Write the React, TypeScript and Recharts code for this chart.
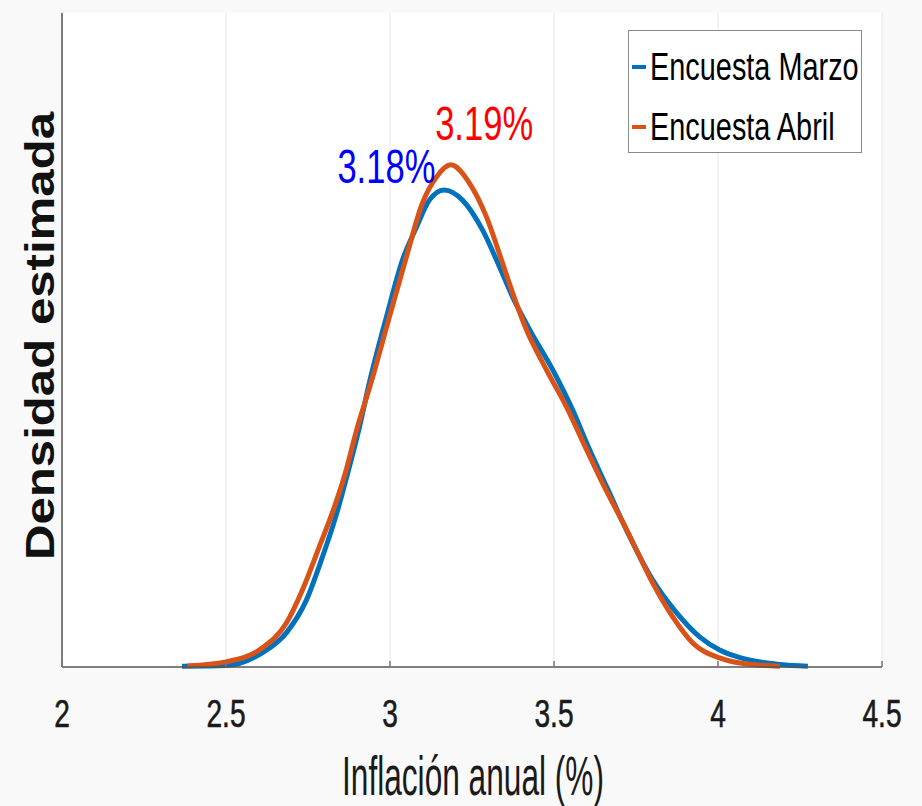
import React from "react";
import { LineChart, Line, XAxis, YAxis, CartesianGrid, ReferenceDot, Label } from "recharts";

// densidad estimada, encuesta de marzo
const inflacionMarzo = [
  2.366, 2.5, 2.61, 2.684, 2.745, 2.794, 2.836, 2.867, 2.907, 2.937, 2.989, 3.038, 3.081,
  3.12, 3.165, 3.221, 3.282, 3.334, 3.374, 3.426, 3.496, 3.557, 3.609, 3.661, 3.731,
  3.801, 3.874, 3.944, 4.005, 4.067, 4.12, 4.19, 4.274,
];
const densidadMarzo = [
  0.002, 0.004, 0.039, 0.094, 0.184, 0.303, 0.418, 0.52, 0.661, 0.782, 0.963, 1.12, 1.211,
  1.285, 1.313, 1.285, 1.203, 1.101, 1.018, 0.928, 0.818, 0.707, 0.597, 0.495, 0.358,
  0.239, 0.149, 0.083, 0.047, 0.026, 0.015, 0.007, 0.002,
];

// densidad estimada, encuesta de abril
const inflacionAbril = [
  2.382, 2.5, 2.61, 2.684, 2.733, 2.784, 2.824, 2.861, 2.897, 2.943, 2.998, 3.05, 3.099,
  3.142, 3.185, 3.242, 3.294, 3.343, 3.374, 3.416, 3.477, 3.538, 3.6, 3.648, 3.722,
  3.801, 3.862, 3.923, 4.005, 4.067, 4.189,
];
const densidadAbril = [
  0.003, 0.014, 0.052, 0.121, 0.212, 0.33, 0.424, 0.525, 0.648, 0.785, 0.963, 1.129, 1.277,
  1.349, 1.382, 1.332, 1.239, 1.112, 1.029, 0.928, 0.818, 0.716, 0.597, 0.506, 0.377,
  0.231, 0.138, 0.066, 0.025, 0.011, 0.002,
];

const ticksX = [2, 2.5, 3, 3.5, 4, 4.5];

const marzo = inflacionMarzo.map((x, i) => ({ x, y: densidadMarzo[i] }));
const abril = inflacionAbril.map((x, i) => ({ x, y: densidadAbril[i] }));

const AZUL = "#0072BD";
const NARANJA = "#D95319";
const SANS = "'Liberation Sans', Arial, Helvetica, sans-serif";

const XTick = (props: any) => {
  const { x, y, payload } = props;
  return (
    <g>
      <line x1={x} x2={x} y1={y} y2={y - 6} stroke="#777" strokeWidth={1.5} />
      <text
        transform={`translate(${x},${y + 60}) scale(0.74,1)`}
        textAnchor="middle"
        fontFamily={SANS}
        fontSize={38}
        fill="#1a1a1a"
        stroke="#1a1a1a"
        strokeWidth={0.6}
      >
        {payload.value}
      </text>
    </g>
  );
};

// etiqueta de la moda, anclada en un punto de datos
const modeLabel = (text: string, color: string) => (p: any) => {
  const vb = p.viewBox;
  return (
    <text
      x={vb.x}
      y={vb.y}
      textAnchor="middle"
      fontFamily={SANS}
      fontSize={49}
      fill={color}
      textLength={98}
      lengthAdjust="spacingAndGlyphs"
    >
      {text}
    </text>
  );
};

const series = [
  { name: "Encuesta Marzo", color: AZUL, top: 17 },
  { name: "Encuesta Abril", color: NARANJA, top: 77 },
];

export default function App() {
  return (
    <div style={{ position: "absolute", left: 0, top: 0, width: 922, height: 806, background: "#f9f9f9" }}>
      <LineChart width={922} height={806} margin={{ top: 13, right: 40, left: 0, bottom: 0 }}>
        <CartesianGrid horizontal={false} stroke="#e6e6e6" fill="#ffffff" />
        <XAxis
          type="number"
          dataKey="x"
          domain={[2, 4.5]}
          ticks={ticksX}
          allowDataOverflow
          height={139}
          tickSize={0}
          tickMargin={0}
          tickLine={false}
          tick={<XTick />}
          axisLine={{ stroke: "#555", strokeWidth: 1.5 }}
        >
          <Label
            content={(p: any) => {
              const vb = p.viewBox;
              return (
                <text
                  x={vb.x + vb.width / 2 + 1}
                  y={vb.y + 128}
                  textAnchor="middle"
                  fontFamily={SANS}
                  fontSize={56}
                  fill="#1a1a1a"
                  textLength={262}
                  lengthAdjust="spacingAndGlyphs"
                >
                  Inflación anual (%)
                </text>
              );
            }}
          />
        </XAxis>
        <YAxis
          type="number"
          dataKey="y"
          domain={[0, 1.8]}
          width={62}
          tick={false}
          tickLine={false}
          axisLine={{ stroke: "#555", strokeWidth: 1.5 }}
        >
          <Label
            content={() => (
              <text
                x={40}
                y={336}
                transform="rotate(-90 40 336)"
                textAnchor="middle"
                dominantBaseline="central"
                fontFamily={SANS}
                fontWeight="bold"
                fontSize={40}
                textLength={448}
                lengthAdjust="spacingAndGlyphs"
                fill="#111"
              >
                Densidad estimada
              </text>
            )}
          />
        </YAxis>
        <Line
          data={marzo}
          dataKey="y"
          name="Encuesta Marzo"
          type="monotone"
          stroke={AZUL}
          strokeWidth={5}
          dot={false}
          isAnimationActive={false}
        />
        <Line
          data={abril}
          dataKey="y"
          name="Encuesta Abril"
          type="monotone"
          stroke={NARANJA}
          strokeWidth={5}
          dot={false}
          isAnimationActive={false}
        />
        <ReferenceDot x={2.989} y={1.332} r={0} label={{ content: modeLabel("3.18%", "#0000ff") }} />
        <ReferenceDot x={3.287} y={1.451} r={0} label={{ content: modeLabel("3.19%", "#ff0000") }} />
      </LineChart>
      <div
        style={{
          position: "absolute",
          left: 628,
          top: 30,
          width: 234,
          height: 123,
          boxSizing: "border-box",
          border: "1px solid #8a8a8a",
          background: "#fff",
        }}
      >
        {series.map((s) => (
          <div
            key={s.name}
            style={{
              position: "absolute",
              left: 3,
              top: s.top,
              height: 38,
              display: "flex",
              alignItems: "center",
              whiteSpace: "nowrap",
            }}
          >
            <span style={{ display: "inline-block", width: 14, height: 4, background: s.color }} />
            <span
              style={{
                display: "inline-block",
                marginLeft: 4,
                fontFamily: SANS,
                fontSize: 38,
                lineHeight: "38px",
                color: "#000",
                transform: "scaleX(0.76)",
                transformOrigin: "left center",
              }}
            >
              {s.name}
            </span>
          </div>
        ))}
      </div>
    </div>
  );
}
